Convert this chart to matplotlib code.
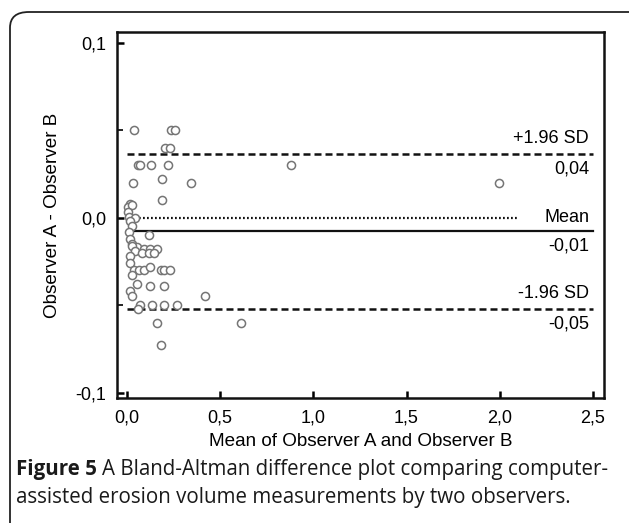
import matplotlib
matplotlib.use('Agg')
import matplotlib.pyplot as plt
from matplotlib.patches import FancyBboxPatch
from matplotlib.ticker import FuncFormatter, MultipleLocator

# Dados (media, diferenca)
media = [0.038, 0.237, 0.26, 0.204, 0.228, 0.06, 0.07, 0.129, 0.22, 0.88,
         0.033, 0.19, 0.345, 1.995, 0.19,
         0.016, 0.004, 0.027, 0.004, 0.01, 0.043, 0.016, 0.027, 0.01, 0.12,
         0.016, 0.027, 0.054, 0.09, 0.125, 0.16,
         0.027, 0.045, 0.08, 0.12, 0.145, 0.016, 0.016,
         0.035, 0.065, 0.09, 0.125, 0.18, 0.2, 0.23, 0.027,
         0.055, 0.125, 0.2, 0.016, 0.027,
         0.07, 0.135, 0.2, 0.27, 0.06,
         0.42, 0.16, 0.61, 0.18]
diferenca = [0.05, 0.05, 0.05, 0.04, 0.04, 0.03, 0.03, 0.03, 0.03, 0.03,
             0.02, 0.022, 0.02, 0.02, 0.01,
             0.008, 0.006, 0.007, 0.003, 0.0006, 0.0, -0.002, -0.005, -0.008, -0.01,
             -0.012, -0.015, -0.017, -0.018, -0.018, -0.018,
             -0.016, -0.019, -0.02, -0.02, -0.02, -0.022, -0.026,
             -0.03, -0.03, -0.03, -0.028, -0.03, -0.03, -0.03, -0.033,
             -0.038, -0.039, -0.039, -0.042, -0.045,
             -0.05, -0.05, -0.05, -0.05, -0.052,
             -0.045, -0.06, -0.06, -0.073]

sd_sup = 0.0366
media_dif = -0.0074
sd_inf = -0.052

plt.rcParams['font.family'] = ['Liberation Sans', 'DejaVu Sans']

fig = plt.figure(figsize=(6.29, 5.23), dpi=100)

# moldura arredondada
moldura = FancyBboxPatch((10 / 629, -0.05), 1.2, 1 - 12 / 523 + 0.05,
                         boxstyle='round,pad=0,rounding_size=0.03',
                         transform=fig.transFigure, fill=False,
                         edgecolor='#222222', linewidth=1.3, zorder=0)
fig.patches.append(moldura)

ax = fig.add_axes([117 / 629, 1 - 398 / 523, (604 - 117) / 629, (398 - 32) / 523])

ax.scatter(media, diferenca, s=34, facecolors='white', edgecolors='#757575',
           linewidths=1.1, zorder=3)

ax.plot([0, 2.5], [sd_sup, sd_sup], color='#111111', lw=1.8, ls=(0, (2.8, 1.6)), zorder=2)
ax.plot([0, 2.5], [sd_inf, sd_inf], color='#111111', lw=1.8, ls=(0, (2.8, 1.6)), zorder=2)
ax.plot([0, 2.1], [0, 0], color='#111111', lw=1.6, ls=(0, (0.8, 1.0)), zorder=2)
ax.plot([0, 2.5], [media_dif, media_dif], color='#111111', lw=1.6, zorder=2)

fs = 13
ax.text(2.48, sd_sup + 0.004, '+1.96 SD', ha='right', va='bottom', fontsize=fs)
ax.text(2.48, sd_sup - 0.004, '0,04', ha='right', va='top', fontsize=fs)
ax.text(2.48, 0.0, 'Mean', ha='right', va='center', fontsize=fs)
ax.text(2.48, media_dif - 0.004, '-0,01', ha='right', va='top', fontsize=fs)
ax.text(2.48, sd_inf + 0.004, '-1.96 SD', ha='right', va='bottom', fontsize=fs)
ax.text(2.48, sd_inf - 0.004, '-0,05', ha='right', va='top', fontsize=fs)

ax.set_xlim(-0.054, 2.56)
ax.set_ylim(-0.103, 0.106)

virgula = FuncFormatter(lambda v, p: f'{v:.1f}'.replace('.', ','))
ax.xaxis.set_major_locator(MultipleLocator(0.5))
ax.yaxis.set_major_locator(MultipleLocator(0.1))
ax.yaxis.set_minor_locator(MultipleLocator(0.05))
ax.xaxis.set_major_formatter(virgula)
ax.yaxis.set_major_formatter(virgula)
ax.tick_params(axis='both', which='major', direction='in', length=5, width=1.8,
               labelsize=fs, pad=8)
ax.tick_params(axis='y', which='minor', direction='in', length=4, width=1.2)
ax.tick_params(axis='x', which='minor', bottom=False)

for s in ax.spines.values():
    s.set_linewidth(1.8)
    s.set_color('#111111')

ax.set_xlabel('Mean of Observer A and Observer B', fontsize=13.6, labelpad=5)
ax.set_ylabel('Observer A - Observer B', fontsize=13.6, labelpad=10)

# legenda da figura
y1 = 1 - 470 / 523
y2 = 1 - 497 / 523
t1 = fig.text(16 / 629, y1, 'Figure 5', fontsize=14.8, fontweight='bold',
              family='Open Sans', va='center', color='#1a1a1a')
fig.canvas.draw()
bb = t1.get_window_extent()
fig.text((bb.x1 + 5) / 629, y1, 'A Bland-Altman difference plot comparing computer-',
         fontsize=14.8, family='Open Sans', va='center', color='#1a1a1a')
fig.text(16 / 629, y2, 'assisted erosion volume measurements by two observers.',
         fontsize=14.8, family='Open Sans', va='center', color='#1a1a1a')

fig.savefig('out.png', dpi=100)
